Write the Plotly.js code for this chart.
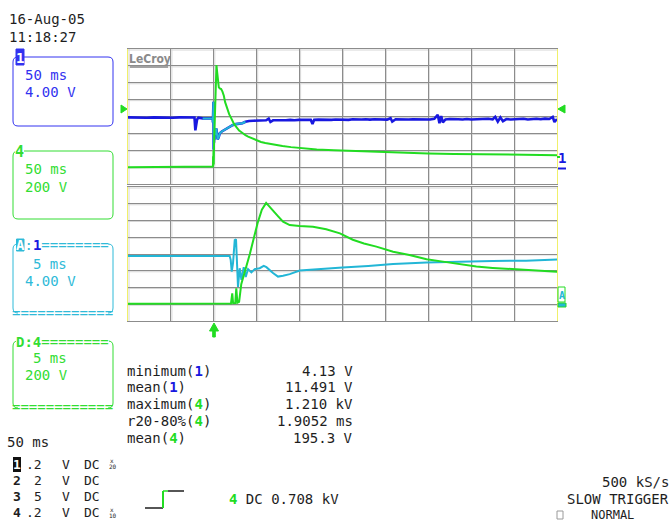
<!DOCTYPE html>
<html><head><meta charset="utf-8">
<script src="https://cdn.plot.ly/plotly-3.0.1.min.js"></script>
<style>html,body{margin:0;padding:0;background:#fff}#chart{width:670px;height:522px}</style>
</head><body><div id="chart"></div>
<script>
// ---------------- data (read from the screen) ----------------
// channel 1 (V) vs time (ms); trigger at 0 ms
const ch1Time = [-100,-92,-85,-78,-70,-62,-55,-48,-40,-33,-26,-22.5,-21.5,-20.5,-19.5,-18,-15,-13,-8,-4,
  -1.15,-1.03,-0.91,-0.76,-0.56,-0.41,-0.30,-0.18,0.02,0.22,0.49,0.72,0.99,1.38,1.77,2.35,2.82,3.13,3.90,4.48,
  5.07,5.85,7.01,9.34,12,15,17.9,21.8,25.7,29.5,33.4,36.9,
  41,46,51,56,61,64,66,69,74,79,84,89,94,99,104,109,113,115,117,122,127,132,137,142,147,152,157,162,167,172,
  177,182,187,192,197,202,206,208,212,217,222,227,232,237,242,247,252,257,261,263,265,267,270,275,280,285,290,
  295,300,305,310,315,320,325,328,331,334,337,341,346,351,356,361,366,371,376,381,386,391,395,397,400];
const ch1Volts = [11.8,11.75,11.8,11.7,11.8,11.75,11.8,11.7,11.8,11.75,11.8,11.75,8.7,10.2,11.3,11.7,11.6,11.55,11.55,11.5,
  11.55,10.6,7.8,9.8,15.3,15.5,10.6,4.15,8.6,5.8,8.85,6.5,8.4,7.6,8.4,8.6,9.15,8.85,7.45,6.6,
  6.8,7.2,8.05,8.45,8.8,9.15,9.6,9.95,10.2,10.35,10.4,10.75,
  10.95,11.0,11.05,10.95,11.1,11.5,10.7,11.1,11.05,11.15,11.1,11.2,11.1,11.2,11.15,11.25,11.2,10.2,11.2,11.25,11.2,11.3,11.2,11.3,11.25,11.3,11.2,11.35,11.25,11.3,
  11.35,11.25,11.35,11.3,11.4,11.25,11.6,10.8,11.35,11.3,11.4,11.3,11.35,11.3,11.4,11.35,11.3,11.45,12.4,10.4,12.1,10.6,11.3,11.4,11.3,11.35,11.3,
  11.4,11.3,11.35,11.4,11.3,11.45,11.3,11.9,10.8,11.8,10.9,11.4,11.3,11.4,11.35,11.45,11.3,11.4,11.45,11.35,11.5,11.4,11.9,10.7,11.4];
// channel 4 (V) vs time (ms)
const ch4Time = [-100,-80,-60,-40,-28,-24,-18,-13,-8,-4,-1.0,-0.85,-0.75,-0.5,-0.38,-0.25,-0.05,0.2,1.2,2.1,2.6,3.1,3.9,4.5,
  5.07,5.85,7.0,8.56,10.1,11.7,13.2,14.5,15.95,17.9,19.8,21.8,23.7,25.7,27.6,29.5,31.5,33.4,36.9,
  40,45,50,55,60,70,80,90,100,120,140,160,180,200,220,250,280,300,330,360,400];
const ch4Volts = [0,2,0,3,3,8,10,8,7,8,8,130,12,15,190,20,30,240,600,968,1130,1210,1125,1050,
  985,945,933,925,895,846,770,725,688,628,589,537,509,482,450,434,419,402,378,
  362,338,315,298,285,265,250,237,225,210,200,193,185,176,168,162,157,154,150,146,142];

const mainRangeMs = [-100, 400];      // 50 ms/div
const zoomRangeMs = [-13, 37];        // 5 ms/div (traces A and D)
const ch1Range = [-4, 28];            // 4.00 V/div
const ch4Range = [-200, 1400];        // 200 V/div

const dateText = '16-Aug-05', timeText = '11:18:27';
const measureLabels = ['minimum', 'mean', 'maximum', 'r20-80%', 'mean'];
const measureChannels = ['1', '1', '4', '4', '4'];
const measureValues = ['4.13 V', '11.491 V', '1.210 kV', '1.9052 ms', '195.3 V'];
const chanNums = ['1', '2', '3', '4'];
const chanScales = ['.2', '2', '5', '.2'];
const chanProbe = ['20', '', '', '10'];

// ---------------- styling ----------------
const MONO = 'DejaVu Sans Mono, monospace';
const BLUE = '#1818e0', BLUE_T = '#3232f0', GREEN = '#22dc22', GREEN_T = '#33dd33', CYAN = '#22b6d6', CYAN_T = '#2fbad8';
const GRID = '#8c8c8c', GRID2 = '#d6d6d6', YEL = '#f0f06a', INK = '#1e1e1e';

const W = 670, H = 522, ML = 128, MR = 113, MT = 49, MB = 201;
const PW = W - ML - MR, PH = H - MT - MB;
const X = p => (p - ML) / PW, Y = p => (H - MB - p) / PH;
const topDom = [Y(184), 1], botDom = [0, Y(187)];

// ---------------- traces ----------------
const win = ch1Time.map((t, i) => (t >= zoomRangeMs[0] && t <= zoomRangeMs[1]) ? i : -1).filter(i => i >= 0);
const traces = [
  {x: ch1Time, y: ch1Volts, xaxis: 'x', yaxis: 'y', mode: 'lines', line: {color: BLUE, width: 2.6}},
  {x: win.map(i => ch1Time[i]), y: win.map(i => ch1Volts[i]), xaxis: 'x', yaxis: 'y', mode: 'lines', line: {color: CYAN, width: 2}},
  {x: ch4Time, y: ch4Volts, xaxis: 'x', yaxis: 'y3', mode: 'lines', line: {color: GREEN, width: 2}},
  {x: ch1Time, y: ch1Volts, xaxis: 'x2', yaxis: 'y2', mode: 'lines', line: {color: CYAN, width: 2}},
  {x: ch4Time, y: ch4Volts, xaxis: 'x2', yaxis: 'y4', mode: 'lines', line: {color: GREEN, width: 2}}
];

const xax = (r, anchor) => ({domain: [0, 1], anchor, range: r, tick0: r[0], dtick: (r[1] - r[0]) / 10,
  showgrid: true, gridcolor: GRID, gridwidth: 1, showticklabels: false, ticks: '', zeroline: false,
  showline: true, linecolor: GRID, linewidth: 1, mirror: true, fixedrange: true});
const yax = (r, dom, anchor) => ({domain: dom, anchor, range: r, tick0: r[0], dtick: (r[1] - r[0]) / 8,
  showgrid: true, gridcolor: GRID, gridwidth: 1, showticklabels: false, ticks: '', zeroline: false,
  showline: true, linecolor: YEL, linewidth: 1, mirror: true, fixedrange: true});
const yov = (r, over, anchor) => ({overlaying: over, anchor, range: r, showgrid: false, showticklabels: false,
  ticks: '', zeroline: false, showline: false, fixedrange: true});

// ---------------- shapes ----------------
const shapes = [];
const P = (x, y) => X(x) + ',' + Y(y);
function pathPx(cmds) {
  return cmds.map(c => c[0] + ' ' + (c.length > 3 ? P(c[1], c[2]) + ' ' + P(c[3], c[4]) : P(c[1], c[2]))).join(' ');
}
function addPath(cmds, color, fill, width) {
  shapes.push({type: 'path', xref: 'paper', yref: 'paper', path: pathPx(cmds) + (fill ? ' Z' : ''),
    line: {color: color, width: width || 1}, fillcolor: fill || 'rgba(0,0,0,0)', layer: 'above'});
}
function roundBox(x0, y0, x1, y1, r, color) {
  addPath([['M', x0 + r, y0], ['L', x1 - r, y0], ['Q', x1, y0, x1, y0 + r], ['L', x1, y1 - r], ['Q', x1, y1, x1 - r, y1],
    ['L', x0 + r, y1], ['Q', x0, y1, x0, y1 - r], ['L', x0, y0 + r], ['Q', x0, y0, x0 + r, y0]], color);
}
function sideBox(x0, y0, x1, y1, r, color) {
  addPath([['M', x0 + r, y0], ['Q', x0, y0, x0, y0 + r], ['L', x0, y1 - r], ['Q', x0, y1, x0 + r, y1]], color);
  addPath([['M', x1 - r, y0], ['Q', x1, y0, x1, y0 + r], ['L', x1, y1 - r], ['Q', x1, y1, x1 - r, y1]], color);
}
function rectPx(x0, y0, x1, y1, line, fill) {
  shapes.push({type: 'rect', xref: 'paper', yref: 'paper', x0: X(x0), x1: X(x1), y0: Y(y1), y1: Y(y0),
    line: {color: line, width: 1}, fillcolor: fill || 'rgba(0,0,0,0)', layer: 'above'});
}
function linePx(x0, y0, x1, y1, color, w) {
  shapes.push({type: 'line', xref: 'paper', yref: 'paper', x0: X(x0), x1: X(x1), y0: Y(y0), y1: Y(y1),
    line: {color, width: w || 1}, layer: 'above'});
}
// grid "shadow" lines one pixel right/below each division line
[['x', 'y', mainRangeMs], ['x2', 'y2', zoomRangeMs]].forEach(([xa, ya, r]) => {
  for (let k = 0; k <= 10; k++) {
    shapes.push({type: 'line', xref: xa, yref: ya + ' domain', xsizemode: 'pixel', xanchor: r[0] + k * (r[1] - r[0]) / 10,
      x0: 1, x1: 1, y0: 0, y1: 1, line: {color: GRID2, width: 1}, layer: 'below'});
  }
  for (let k = 0; k <= 8; k++) {
    shapes.push({type: 'line', yref: ya, xref: xa + ' domain', ysizemode: 'pixel', yanchor: ch1Range[0] + k * (ch1Range[1] - ch1Range[0]) / 8,
      y0: -1, y1: -1, x0: 0, x1: 1, line: {color: GRID2, width: 1}, layer: 'below'});
  }
});

// channel boxes
roundBox(13, 57, 113, 126, 5, BLUE_T);
rectPx(16, 49, 24, 65, BLUE_T, BLUE_T);
roundBox(13, 151, 113, 219, 5, GREEN_T);
sideBox(13, 244, 113, 313, 5, CYAN_T);
rectPx(16.5, 239, 24, 251, CYAN_T, CYAN_T);
sideBox(13, 341, 113, 408, 5, GREEN_T);
// LeCroy underline
linePx(130, 67, 168, 67, '#8a8a8a', 1.5);
// trigger level markers
addPath([['M', 121, 105], ['L', 127, 109], ['L', 121, 113]], GREEN, GREEN);
addPath([['M', 565, 105], ['L', 558, 109], ['L', 565, 113]], GREEN, GREEN);
// channel 1 ground marker (right)
linePx(558, 168.5, 566, 168.5, BLUE, 2);
linePx(557, 157, 560, 157, GREEN, 2);
// trace A marker (right)
rectPx(558, 287, 565, 302, GREEN, '#ffffff');
rectPx(558, 303, 566, 307, GREEN, CYAN);
// trigger time arrow
addPath([['M', 209.5, 331], ['L', 214, 323], ['L', 218.5, 331], ['L', 215.3, 331], ['L', 215.3, 337], ['L', 212.7, 337], ['L', 212.7, 331]], GREEN, GREEN);
// trigger slope icon
linePx(145, 508, 163, 508, INK, 1.5);
linePx(163, 508, 163, 491, GREEN, 2);
linePx(163, 491, 168, 491, GREEN, 1.5);
linePx(168, 491, 184, 491, INK, 1.5);
// NORMAL square
rectPx(557, 511, 563, 519, '#9a9a9a');

// ---------------- text ----------------
const ann = [];
function T(text, x, y, o) {
  o = o || {};
  ann.push({text, x: X(x), y: Y(y), xref: 'paper', yref: 'paper', xanchor: o.anchor || 'left', yanchor: 'middle',
    showarrow: false, borderpad: 0, borderwidth: 0, bgcolor: o.bg || 'rgba(0,0,0,0)',
    font: {family: o.family || MONO, size: o.size || 14, color: o.color || INK}});
}
T(dateText, 9, 19);
T(timeText, 9, 37);
// box 1
T('<b>1</b>', 16, 57.5, {color: '#ffffff', size: 14});
T('50 ms', 25, 75, {color: BLUE_T});
T('4.00 V', 25, 92, {color: BLUE_T});
// box 4
T('<b>4</b>', 15, 152, {color: GREEN_T, size: 15, bg: '#ffffff'});
T('50 ms', 25, 169, {color: GREEN_T});
T('200 V', 25, 186.5, {color: GREEN_T});
// box A:1
T('<span style="color:#ffffff"><b>A</b></span>:<span style="color:' + BLUE + '"><b>1</b></span>========', 16, 245, {color: CYAN_T});
T('5 ms', 33, 263.5, {color: CYAN_T});
T('4.00 V', 25, 281, {color: CYAN_T});
T('============', 12, 313, {color: CYAN_T});
// box D:4
T('<b>D:4</b>========', 16, 341.5, {color: GREEN_T, bg: '#ffffff'});
T('5 ms', 33, 358, {color: GREEN_T});
T('200 V', 25, 375, {color: GREEN_T});
T('============', 12, 407.5, {color: GREEN_T});
// logo
T('<b>LeCroy</b>', 129, 59, {family: 'DejaVu Sans Condensed, DejaVu Sans', size: 12, color: '#8a8a8a'});
// right-side marker letters
T('<b>1</b>', 557.5, 158, {color: BLUE, size: 14});
T('<b>A</b>', 558.5, 295, {color: CYAN, size: 10});
// measurements
const rowY = [370.5, 387, 404, 421, 438];
measureLabels.forEach((lab, i) => {
  const c = measureChannels[i] === '1' ? BLUE : GREEN;
  T(lab + '(<span style="color:' + c + '"><b>' + measureChannels[i] + '</b></span>)', 127, rowY[i]);
  T(measureValues[i], 353, rowY[i], {anchor: 'right'});
});
T('50 ms', 7, 442);
// channel settings rows
const legY = [464, 480, 496.5, 512.5];
chanNums.forEach((n, i) => {
  if (i === 0) T('<b>' + n + '</b>', 13, legY[i], {size: 13, color: '#ffffff', bg: '#111111'});
  else T('<b>' + n + '</b>', 12.5, legY[i], {size: 13});
  T(chanScales[i], 42, legY[i], {anchor: 'right', size: 13});
  T('V', 62, legY[i], {size: 13});
  T('DC', 84, legY[i], {size: 13});
  if (chanProbe[i]) {
    T('x', 110, legY[i] - 3.5, {size: 6});
    T(chanProbe[i], 109, legY[i] + 3, {size: 6});
  }
});
// trigger info
T('<span style="color:' + GREEN + '"><b>4</b></span> DC 0.708 kV', 229, 499);
T('500 kS/s', 669, 481.5, {anchor: 'right'});
T('SLOW TRIGGER', 669, 498.5, {anchor: 'right'});
T('NORMAL', 591, 515, {size: 12});

const layout = {
  width: W, height: H, margin: {l: ML, r: MR, t: MT, b: MB, autoexpand: false},
  paper_bgcolor: '#ffffff', plot_bgcolor: '#ffffff', showlegend: false,
  xaxis: xax(mainRangeMs, 'y'),
  yaxis: yax(ch1Range, topDom, 'x'),
  yaxis3: yov(ch4Range, 'y', 'x'),
  xaxis2: xax(zoomRangeMs, 'y2'),
  yaxis2: yax(ch1Range, botDom, 'x2'),
  yaxis4: yov(ch4Range, 'y2', 'x2'),
  shapes, annotations: ann
};
Plotly.newPlot('chart', traces, layout, {staticPlot: true, displayModeBar: false});
</script>
</body></html>
